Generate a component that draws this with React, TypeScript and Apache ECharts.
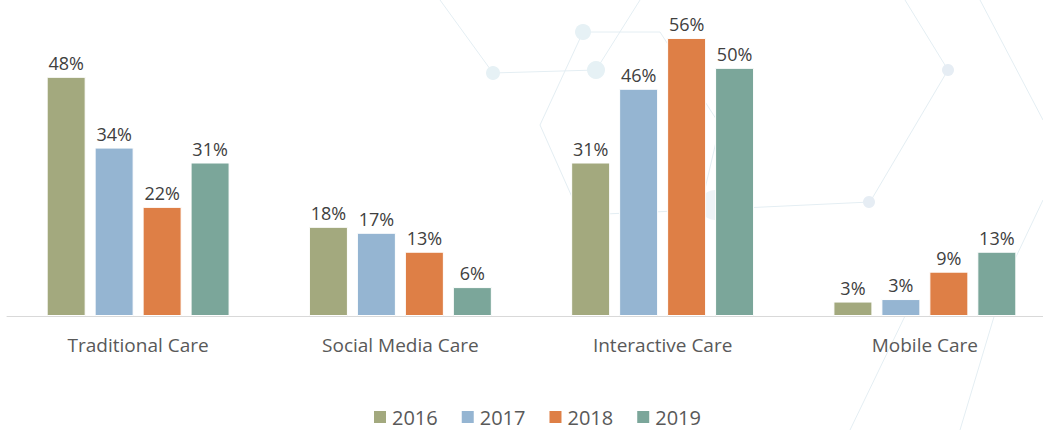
import React, { useEffect, useRef } from "react";
import * as echarts from "echarts";

const categories = ["Traditional Care", "Social Media Care", "Interactive Care", "Mobile Care"];
const years = ["2016", "2017", "2018", "2019"];
const values2016 = [48, 17.9, 30.8, 2.9];
const values2017 = [33.8, 16.7, 45.6, 3.4];
const values2018 = [21.9, 12.9, 55.8, 8.9];
const values2019 = [30.8, 5.8, 49.8, 12.9];
const seriesValues = [values2016, values2017, values2018, values2019];
const colors = ["#A3A97E", "#95B5D2", "#DE7F46", "#7BA69A"];

const deco = "#E4EEF3";

export default function App() {
  const ref = useRef<HTMLDivElement>(null);
  useEffect(() => {
    if (!ref.current) return;
    const chart = echarts.init(ref.current, null, { renderer: "svg" });
    const font = "'Open Sans', 'Noto Sans', sans-serif";
    chart.setOption({
      animation: false,
      backgroundColor: "#ffffff",
      graphic: [
        { type: "polyline", silent: true, z: -10, shape: { points: [[440, 0], [493, 73], [596, 70], [640, 0]] }, style: { stroke: deco, lineWidth: 1, fill: null } },
        { type: "polyline", silent: true, z: -10, shape: { points: [[583, 32], [660, 32], [720, 125], [700, 210], [870, 202], [948, 70], [905, 0]] }, style: { stroke: deco, lineWidth: 1, fill: null } },
        { type: "polyline", silent: true, z: -10, shape: { points: [[583, 32], [540, 125], [580, 215], [700, 210]] }, style: { stroke: deco, lineWidth: 1, fill: null } },
        { type: "polyline", silent: true, z: -10, shape: { points: [[980, 0], [1043, 120]] }, style: { stroke: deco, lineWidth: 1, fill: null } },
        { type: "polyline", silent: true, z: -10, shape: { points: [[1043, 200], [1005, 280], [960, 430]] }, style: { stroke: deco, lineWidth: 1, fill: null } },
        { type: "polyline", silent: true, z: -10, shape: { points: [[905, 316], [850, 430]] }, style: { stroke: deco, lineWidth: 1, fill: null } },
        { type: "circle", silent: true, z: -10, shape: { cx: 493, cy: 73, r: 7 }, style: { fill: "#E6F1F5" } },
        { type: "circle", silent: true, z: -10, shape: { cx: 583, cy: 32, r: 8 }, style: { fill: "#E6F1F5" } },
        { type: "circle", silent: true, z: -10, shape: { cx: 596, cy: 70, r: 9 }, style: { fill: "#E6F1F5" } },
        { type: "circle", silent: true, z: -10, shape: { cx: 948, cy: 70, r: 6 }, style: { fill: "#E6EDF4" } },
        { type: "circle", silent: true, z: -10, shape: { cx: 869, cy: 202, r: 6 }, style: { fill: "#E6EDF4" } },
        { type: "circle", silent: true, z: -10, shape: { cx: 715, cy: 205, r: 15 }, style: { fill: "#EEF4F7" } }
      ],
      grid: { left: 7, top: 17, width: 1049, height: 299, containLabel: false },
      xAxis: {
        type: "category",
        data: categories,
        axisLine: { show: true, lineStyle: { color: "#D9D9D9", width: 1 } },
        axisTick: { show: false },
        axisLabel: { color: "#595959", fontSize: 19, fontFamily: font, margin: 19 },
        splitLine: { show: false }
      },
      yAxis: {
        type: "value",
        min: 0,
        max: 60,
        show: false,
        splitLine: { show: false }
      },
      legend: {
        data: years,
        top: 404,
        left: 370,
        padding: 2,
        icon: "rect",
        itemWidth: 14,
        itemHeight: 14,
        itemGap: 22,
        textStyle: { color: "#595959", fontSize: 20, fontFamily: font, lineHeight: 22 }
      },
      series: years.map((y, i) => ({
        name: y,
        type: "bar",
        data: seriesValues[i],
        barWidth: 39,
        barGap: "23%",
        itemStyle: { color: colors[i], borderColor: "#ffffff", borderWidth: 1 },
        label: {
          show: true,
          position: "top",
          distance: 5,
          color: "#404040",
          fontSize: 18,
          fontFamily: font,
          formatter: (p: any) => Math.round(p.value) + "%"
        }
      }))
    });
    return () => chart.dispose();
  }, []);
  return (
    <div style={{ position: "fixed", left: 0, top: 0, width: 1043, height: 430, overflow: "hidden" }}>
      <div ref={ref} style={{ width: 1070, height: 430 }} />
    </div>
  );
}
